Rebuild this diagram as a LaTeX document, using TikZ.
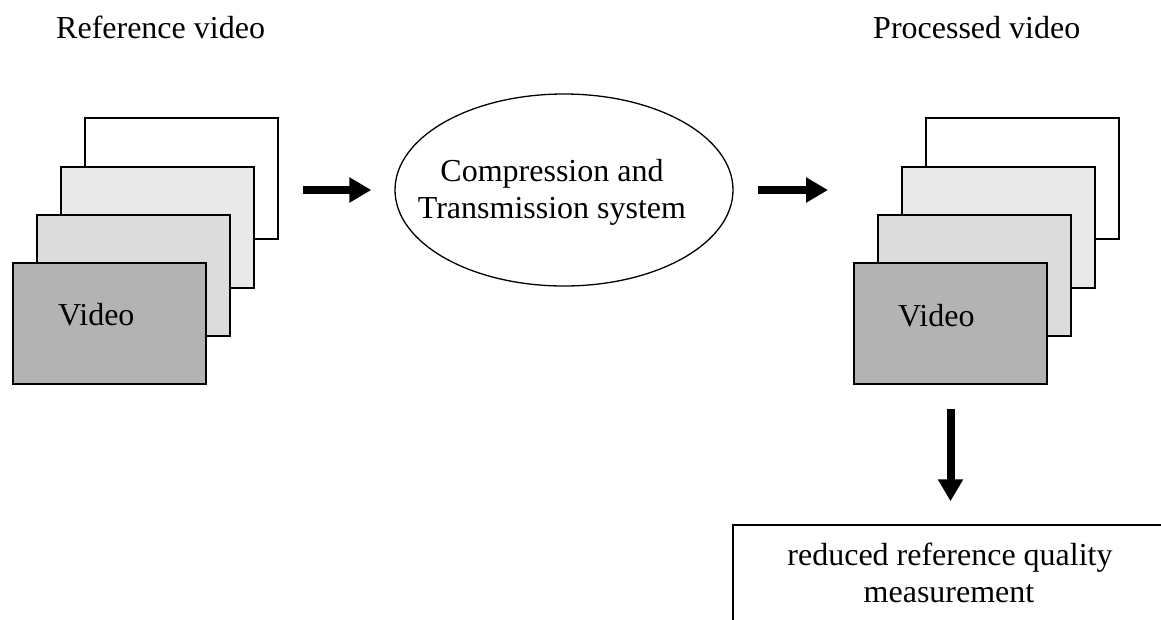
\documentclass[tikz,border=0pt]{standalone}
\usepackage{fontspec}
\setmainfont{Liberation Serif}
\usetikzlibrary{arrows.meta,calc,shapes.geometric}
\definecolor{gone}{HTML}{E9E9E9}
\definecolor{gtwo}{HTML}{DCDCDC}
\definecolor{gthree}{HTML}{B3B3B3}
\begin{document}
\begin{tikzpicture}[x=1pt,y=-1pt,
 frame/.style={draw, line width=2pt, minimum width=193pt, minimum height=121pt, inner sep=0pt, anchor=north west},
 lbl/.style={font=\fontsize{32}{37}\selectfont, inner sep=0pt},
 fat/.style={line width=8pt, -{Triangle[width=24pt,length=22pt]}},
]
\useasboundingbox (0,0) rectangle (1161,619);
% titles
\node[lbl, anchor=base west] (t1) at (56,38) {Reference video};
\node[lbl, anchor=base west] (t2) at (873,38) {Processed video};
% left stack
\node[frame, fill=white] (la) at (84,117) {};
\node[frame, fill=gone] (lb) at (60,165.5) {};
\node[frame, fill=gtwo] (lc) at (36,214) {};
\node[frame, fill=gthree] (ld) at (12,262) {};
\node[lbl, anchor=base west] (v1) at (58,325) {Video};
% right stack
\node[frame, fill=white] (ra) at (925,117) {};
\node[frame, fill=gone] (rb) at (901,165.5) {};
\node[frame, fill=gtwo] (rc) at (877,214) {};
\node[frame, fill=gthree] (rd) at (853,262) {};
\node[lbl, anchor=base west] (v2) at (898,326) {Video};
% ellipse
\node[ellipse, draw, line width=1.3pt, minimum width=338pt, minimum height=192pt, inner sep=0pt] (ell) at (564,190) {};
\node[lbl, anchor=base] (c1) at (552,181) {Compression and};
\node[lbl, anchor=base] (c2) at (552,218) {Transmission system};
% bottom box
\node[draw, line width=1.5pt, minimum width=440pt, minimum height=100pt, inner sep=0pt] (box) at (953,575) {};
\node[lbl, anchor=base] (r1) at (950,565) {reduced reference quality};
\node[lbl, anchor=base] (r2) at (949,602) {measurement};
% arrows
\draw[fat, shorten <=24pt, shorten >=23pt] (ell.west -| la.east) -- (ell.west);
\draw[fat, shorten <=24pt, shorten >=25pt] (ell.east) -- (ell.east -| rd.west);
\draw[fat, shorten <=24pt, shorten >=23pt] (rd.south) -- (rd.south |- box.north);
\end{tikzpicture}
\end{document}
